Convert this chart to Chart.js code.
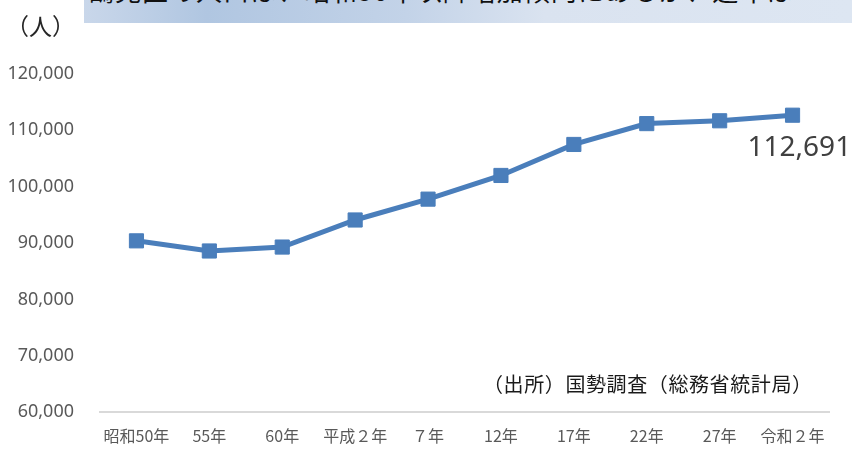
<!DOCTYPE html>
<html lang="ja">
<head>
<meta charset="utf-8">
<script src="https://cdn.jsdelivr.net/npm/chart.js@4"></script>
<style>
  html, body { margin: 0; padding: 0; background: #fff; }
  #wrap { position: relative; width: 852px; height: 449px; overflow: hidden; }
  #banner {
    position: absolute; left: 84px; top: 0; width: 768px; height: 23px; overflow: hidden;
    background: linear-gradient(to right, #c9d7ea 0%, #b0c6e1 16%, #c3d3e8 42%, #dae3f0 60%, #dde6f2 100%);
  }
  #banner span {
    position: absolute; left: 4px; top: -23px; white-space: nowrap;
    font: 26px/26px "Noto Sans CJK JP", sans-serif; color: #111; letter-spacing: 1px;
  }
  #unit { position: absolute; left: 6px; top: 11px; font: 23px/28px "Noto Sans CJK JP", sans-serif; color: #262626; }
  #source { position: absolute; left: 483px; top: 371px; font: 20px/26px "Noto Sans CJK JP", sans-serif; color: #1a1a1a; letter-spacing: 0.6px; }
  canvas { position: absolute; left: 0; top: 0; }
</style>
</head>
<body>
<div id="wrap">
  <canvas id="chart" width="852" height="449"></canvas>
  <div id="banner"><span>鶴見区の人口は、昭和50年以降増加傾向にあるが、近年は</span></div>
  <div id="unit">（人）</div>
  <div id="source">（出所）国勢調査（総務省統計局）</div>
</div>
<script>
// --- data ---
const years = ['昭和50年', '55年', '60年', '平成２年', '７年', '12年', '17年', '22年', '27年', '令和２年'];
const population = [90400, 88600, 89300, 94100, 97800, 102000, 107500, 111200, 111700, 112691];
const yMin = 60000;
const yMax = 120000;
const yStep = 10000;
const lastLabel = '112,691';

const lineBlue = '#4a7ebb';

// label next to the last point
const lastValueLabel = {
    id: 'lastValueLabel',
    afterDatasetsDraw(chart) {
        const meta = chart.getDatasetMeta(0);
        const pt = meta.data[meta.data.length - 1];
        const ctx = chart.ctx;
        ctx.save();
        ctx.font = '28px "Noto Sans", sans-serif';
        ctx.fillStyle = '#404040';
        ctx.textAlign = 'left';
        ctx.textBaseline = 'middle';
        ctx.fillText(lastLabel, pt.x - 45, pt.y + 33);
        ctx.restore();
    }
};

new Chart(document.getElementById('chart').getContext('2d'), {
    type: 'line',
    data: {
        labels: years,
        datasets: [{
            data: population,
            borderColor: lineBlue,
            backgroundColor: lineBlue,
            borderWidth: 5,
            pointStyle: 'rect',
            pointRadius: 10,
            pointBorderWidth: 1,
            pointBackgroundColor: lineBlue,
            pointBorderColor: lineBlue,
            tension: 0,
            clip: false
        }]
    },
    options: {
        responsive: false,
        animation: false,
        events: [],
        layout: { padding: { top: 74, right: 23, left: 0, bottom: 0 } },
        plugins: { legend: { display: false }, tooltip: { enabled: false } },
        scales: {
            x: {
                offset: true,
                grid: { display: false, drawTicks: false },
                border: { display: true, color: '#d9d9d9', width: 2 },
                ticks: {
                    color: '#595959',
                    font: { family: '"Noto Sans CJK JP", sans-serif', size: 16 },
                    padding: 14,
                    maxRotation: 0,
                    autoSkip: false
                },
                afterFit(scale) { scale.height = 32; }
            },
            y: {
                min: yMin,
                max: yMax,
                grid: { display: false, drawTicks: false },
                border: { display: false },
                ticks: {
                    stepSize: yStep,
                    color: '#595959',
                    font: { family: '"Noto Sans", sans-serif', size: 18 },
                    padding: 26,
                    callback: v => v.toLocaleString('en-US')
                },
                afterFit(scale) { scale.width = 100; }
            }
        }
    },
    plugins: [lastValueLabel]
});
</script>
</body>
</html>
